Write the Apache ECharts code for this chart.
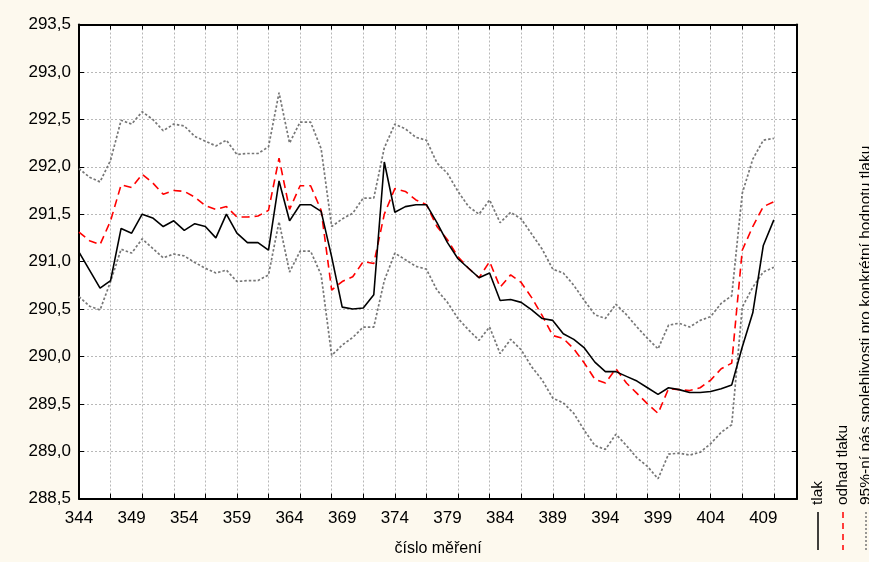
<!DOCTYPE html>
<html>
<head>
<meta charset="utf-8">
<script src="https://cdn.jsdelivr.net/npm/echarts@6/dist/echarts.min.js"></script>
<style>
html,body{margin:0;padding:0;background:#fdf9ee;}
#c{width:869px;height:562px;}
</style>
</head>
<body>
<div id="c"></div>
<script>
const measurement = [344,345,346,347,348,349,350,351,352,353,354,355,356,357,358,359,360,361,362,363,364,365,366,367,368,369,370,371,372,373,374,375,376,377,378,379,380,381,382,383,384,385,386,387,388,389,390,391,392,393,394,395,396,397,398,399,400,401,402,403,404,405,406,407,408,409,410];
const tlak = [291.10,290.91,290.72,290.80,291.35,291.30,291.50,291.46,291.37,291.43,291.33,291.40,291.37,291.25,291.50,291.30,291.20,291.20,291.12,291.85,291.43,291.60,291.60,291.53,291.05,290.52,290.50,290.51,290.65,292.05,291.52,291.58,291.60,291.60,291.41,291.20,291.03,290.93,290.83,290.88,290.59,290.60,290.57,290.49,290.40,290.38,290.24,290.18,290.09,289.94,289.84,289.84,289.79,289.74,289.67,289.60,289.67,289.65,289.62,289.62,289.63,289.66,289.70,290.10,290.46,291.17,291.44];
const odhad = [291.31,291.22,291.18,291.43,291.81,291.78,291.92,291.83,291.71,291.75,291.74,291.68,291.59,291.55,291.58,291.47,291.47,291.48,291.54,292.09,291.55,291.80,291.80,291.54,290.70,290.79,290.84,291.00,290.98,291.50,291.77,291.74,291.65,291.60,291.37,291.23,291.05,290.93,290.83,291.00,290.73,290.86,290.78,290.62,290.43,290.22,290.19,290.08,289.93,289.76,289.72,289.87,289.72,289.61,289.50,289.40,289.66,289.65,289.64,289.67,289.75,289.87,289.93,291.12,291.37,291.58,291.63];
const horni = [291.98,291.89,291.84,292.07,292.49,292.45,292.58,292.50,292.38,292.45,292.43,292.32,292.27,292.22,292.28,292.13,292.14,292.14,292.21,292.78,292.25,292.47,292.47,292.19,291.37,291.45,291.51,291.67,291.67,292.20,292.45,292.40,292.31,292.28,292.04,291.93,291.74,291.58,291.50,291.65,291.41,291.52,291.45,291.29,291.13,290.92,290.88,290.75,290.59,290.44,290.40,290.55,290.44,290.31,290.19,290.08,290.33,290.35,290.31,290.38,290.42,290.56,290.64,291.72,292.08,292.28,292.30];
const dolni = [290.63,290.53,290.49,290.79,291.13,291.09,291.24,291.14,291.04,291.08,291.06,290.99,290.93,290.88,290.91,290.79,290.80,290.80,290.86,291.42,290.89,291.11,291.11,290.86,290.01,290.12,290.20,290.31,290.31,290.80,291.09,291.02,290.95,290.92,290.70,290.57,290.40,290.28,290.17,290.31,290.03,290.18,290.07,289.89,289.75,289.56,289.51,289.40,289.22,289.06,289.02,289.18,289.06,288.93,288.84,288.71,288.97,288.98,288.96,288.99,289.08,289.20,289.28,290.52,290.73,290.89,290.94];
const legendNames = ['tlak','odhad tlaku','95%-ní pás spolehlivosti pro konkrétní hodnotu tlaku'];
const xName = 'číslo měření';

const FONT = "'Liberation Sans', Arial, sans-serif";
const pair = a => measurement.map((x,i)=>[x,a[i]]);
const chart = echarts.init(document.getElementById('c'), null, {renderer:'canvas'});
const xCommon = {type:'value', min:344, max:412.2};
const yCommon = {type:'value', min:288.5, max:293.5, interval:0.5};

function legendItem(x, name, stroke, dash){
  return [
    {type:'line', shape:{x1:x,y1:512,x2:x,y2:550}, style:{stroke:stroke, lineWidth:1.5, lineDash:dash}},
    {type:'text', x:x, y:505, rotation:Math.PI/2,
     style:{text:name, fontSize:15.5, fontFamily:FONT, fill:'#000', textAlign:'left', align:'left', textVerticalAlign:'middle', verticalAlign:'middle'}}
  ];
}

chart.setOption({
  backgroundColor:'#fdf9ee',
  animation:false,
  grid:{left:79, right:72, top:24.5, bottom:63.3, show:true, backgroundColor:'#ffffff', borderWidth:0},
  xAxis:[
    Object.assign({}, xCommon, {position:'bottom', interval:3,
      axisLine:{show:true, onZero:false, lineStyle:{color:'#000', width:2}},
      axisTick:{show:true, inside:true, length:5, lineStyle:{color:'#000', width:1}},
      axisLabel:{show:false},
      splitLine:{show:true, lineStyle:{color:'#b8b8b8', width:1, type:[2,2]}}}),
    Object.assign({}, xCommon, {position:'top', interval:3,
      axisLine:{show:true, onZero:false, lineStyle:{color:'#000', width:2}},
      axisTick:{show:true, inside:true, length:5, lineStyle:{color:'#000', width:1}},
      axisLabel:{show:false}, splitLine:{show:false}}),
    Object.assign({}, xCommon, {position:'bottom', interval:5,
      axisLine:{show:false, onZero:false}, axisTick:{show:false}, splitLine:{show:false},
      axisLabel:{show:true, showMaxLabel:false, margin:11, color:'#000', fontSize:17, fontFamily:FONT},
      name:xName, nameLocation:'middle', nameGap:42,
      nameTextStyle:{color:'#000', fontSize:16, fontFamily:FONT}})
  ],
  yAxis:[
    Object.assign({}, yCommon, {position:'left',
      axisLine:{show:true, onZero:false, lineStyle:{color:'#000', width:2}},
      axisTick:{show:true, inside:true, length:5, lineStyle:{color:'#000', width:1}},
      axisLabel:{show:true, margin:8, color:'#000', fontSize:17, fontFamily:FONT,
        formatter:v=>v.toFixed(1).replace('.',',')},
      splitLine:{show:true, lineStyle:{color:'#b8b8b8', width:1, type:[2,2]}}}),
    Object.assign({}, yCommon, {position:'right',
      axisLine:{show:true, onZero:false, lineStyle:{color:'#000', width:2}},
      axisTick:{show:true, inside:true, length:5, lineStyle:{color:'#000', width:1}},
      axisLabel:{show:false}, splitLine:{show:false}})
  ],
  series:[
    {name:legendNames[2], type:'line', data:pair(horni), showSymbol:false, symbol:'none',
      lineStyle:{color:'#777777', width:1.7, type:[2.5,2]}, z:2},
    {name:legendNames[2], type:'line', data:pair(dolni), showSymbol:false, symbol:'none',
      lineStyle:{color:'#777777', width:1.7, type:[2.5,2]}, z:2},
    {name:legendNames[1], type:'line', data:pair(odhad), showSymbol:false, symbol:'none',
      lineStyle:{color:'#ff0000', width:1.6, type:[8,5]}, z:3},
    {name:legendNames[0], type:'line', data:pair(tlak), showSymbol:false, symbol:'none',
      lineStyle:{color:'#000000', width:1.6}, z:4}
  ],
  graphic:[].concat(
    legendItem(818, legendNames[0], '#000', null),
    legendItem(843, legendNames[1], '#ff0000', [6,5]),
    legendItem(866, legendNames[2], '#777777', [2,2])
  )
});
</script>
</body>
</html>
